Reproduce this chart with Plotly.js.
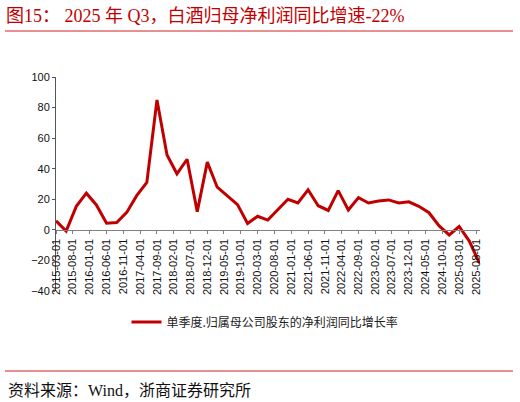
<!DOCTYPE html>
<html>
<head>
<meta charset="utf-8">
<script src="https://cdn.plot.ly/plotly-3.0.1.min.js"></script>
<style>
  html, body { margin: 0; padding: 0; background: #fff; }
  #chart { width: 520px; height: 402px; }
</style>
</head>
<body>
<div id="chart"></div>
<script>
// quarterly dates, 2015Q1 .. 2025Q3
const quarters = [
    '2015-03-01', '2015-06-01', '2015-09-01', '2015-12-01',
    '2016-03-01', '2016-06-01', '2016-09-01', '2016-12-01',
    '2017-03-01', '2017-06-01', '2017-09-01', '2017-12-01',
    '2018-03-01', '2018-06-01', '2018-09-01', '2018-12-01',
    '2019-03-01', '2019-06-01', '2019-09-01', '2019-12-01',
    '2020-03-01', '2020-06-01', '2020-09-01', '2020-12-01',
    '2021-03-01', '2021-06-01', '2021-09-01', '2021-12-01',
    '2022-03-01', '2022-06-01', '2022-09-01', '2022-12-01',
    '2023-03-01', '2023-06-01', '2023-09-01', '2023-12-01',
    '2024-03-01', '2024-06-01', '2024-09-01', '2024-12-01',
    '2025-03-01', '2025-06-01', '2025-09-01',
];
// 单季度归母净利润同比增长率 (%)
const growth = [
    5.9, -0.8, 15.4, 24.0,
    16.3, 4.4, 4.8, 11.4,
    22.4, 31.0, 85.0, 49.0,
    36.7, 46.2, 11.9, 44.3,
    27.9, 22.4, 16.5, 4.2,
    8.9, 6.4, 13.2, 20.0,
    17.6, 26.2, 15.8, 12.7,
    25.7, 13.0, 21.1, 17.6,
    18.9, 19.6, 17.6, 18.3,
    15.4, 11.2, 2.6, -3.3,
    2.2, -7.3, -21.8,
];
// x tick labels, every 5 months
const xTicks = [
    '2015-03-01', '2015-08-01', '2016-01-01', '2016-06-01', '2016-11-01',
    '2017-04-01', '2017-09-01', '2018-02-01', '2018-07-01', '2018-12-01',
    '2019-05-01', '2019-10-01', '2020-03-01', '2020-08-01', '2021-01-01',
    '2021-06-01', '2021-11-01', '2022-04-01', '2022-09-01', '2023-02-01',
    '2023-07-01', '2023-12-01', '2024-05-01', '2024-10-01', '2025-03-01',
    '2025-08-01',
];
const yTicks = [-40, -20, 0, 20, 40, 60, 80, 100];

const seriesName = '单季度.归属母公司股东的净利润同比增长率';
const titleText = '图15： 2025 年 Q3，白酒归母净利润同比增速-22%';
const sourceText = '资料来源：Wind，浙商证券研究所';

const red = '#C00000';
const sans = '"Liberation Sans", Arial, sans-serif';
const cjk = '"Liberation Serif", "Noto Sans CJK SC", serif';

const data = [{
    x: quarters,
    y: growth,
    name: seriesName,
    type: 'scatter',
    mode: 'lines',
    line: { color: red, width: 3 },
}];

const layout = {
    width: 520,
    height: 402,
    margin: { t: 77, l: 56, r: 40, b: 111 },
    paper_bgcolor: '#fff',
    plot_bgcolor: '#fff',
    showlegend: true,
    legend: {
        orientation: 'h',
        xref: 'container',
        yref: 'container',
        x: 265 / 520,
        xanchor: 'center',
        y: 1 - 322 / 402,
        yanchor: 'middle',
        font: { family: '"Noto Sans CJK SC", sans-serif', size: 12, color: '#222' },
    },
    title: {
        text: titleText,
        xref: 'container',
        yref: 'container',
        x: 6 / 520,
        xanchor: 'left',
        y: 1 - 16 / 402,
        yanchor: 'middle',
        font: { family: cjk, size: 18, color: red },
    },
    xaxis: {
        type: 'date',
        range: ['2015-03-01', '2025-09-06'],
        anchor: 'free',
        position: 40 / 140, // sits on y = 0
        showgrid: false,
        zeroline: false,
        showline: true,
        linecolor: '#808080',
        linewidth: 1.5,
        ticks: 'outside',
        ticklen: 3,
        tickcolor: '#808080',
        tickmode: 'array',
        tickvals: xTicks,
        ticktext: xTicks,
        tickangle: -90,
        tickfont: { family: sans, size: 11, color: '#111' },
    },
    yaxis: {
        range: [-40, 100],
        showgrid: false,
        zeroline: false,
        showline: true,
        linecolor: '#555',
        linewidth: 1,
        ticks: 'outside',
        ticklen: 3,
        tickcolor: '#555',
        tickmode: 'array',
        tickvals: yTicks,
        tickfont: { family: sans, size: 11, color: '#111' },
    },
    shapes: [
        { type: 'line', xref: 'paper', yref: 'paper',
          x0: -51 / 424, x1: 457 / 424, y0: 260 / 214, y1: 260 / 214,
          line: { color: '#D02020', width: 1 } },
        { type: 'line', xref: 'paper', yref: 'paper',
          x0: -51 / 424, x1: 457 / 424, y0: -80 / 214, y1: -80 / 214,
          line: { color: '#D02020', width: 1 } },
    ],
    annotations: [{
        text: sourceText,
        xref: 'paper',
        yref: 'paper',
        x: -50 / 424,
        xanchor: 'left',
        y: -99 / 214,
        yanchor: 'middle',
        showarrow: false,
        font: { family: cjk, size: 16, color: '#111' },
    }],
};

Plotly.newPlot('chart', data, layout, { displayModeBar: false, staticPlot: true });
</script>
</body>
</html>
